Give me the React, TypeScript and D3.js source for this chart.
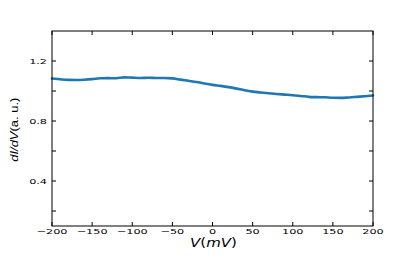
import React from "react";
import * as d3 from "d3";

const voltages = [-200, -190, -180, -170, -160, -150, -140, -130, -120, -110, -100, -90, -80, -70, -60, -50, -40, -30, -20, -10, 0, 10, 20, 30, 40, 50, 60, 70, 80, 90, 100, 110, 120, 130, 140, 150, 160, 170, 180, 190, 200];
const conductance = [1.083, 1.078, 1.074, 1.073, 1.075, 1.079, 1.085, 1.086, 1.085, 1.091, 1.089, 1.087, 1.088, 1.087, 1.087, 1.084, 1.076, 1.068, 1.06, 1.05, 1.041, 1.034, 1.026, 1.016, 1.005, 0.996, 0.99, 0.985, 0.98, 0.976, 0.972, 0.967, 0.961, 0.959, 0.958, 0.955, 0.954, 0.957, 0.961, 0.965, 0.97];
const xTicks = [-200, -150, -100, -50, 0, 50, 100, 150, 200];
const yMajorTicks = [0.4, 0.8, 1.2];
const yMinorTicks = [0.2, 0.6, 1.0];

const W = 415, H = 259;
const L = 52, R = 373, T = 31, B = 226;

export default function App() {
  const x = d3.scaleLinear().domain([-200, 200]).range([L, R]);
  const y = d3.scaleLinear().domain([0.1, 1.4]).range([B, T]);
  const line = d3.line<number>().x((_, i) => x(voltages[i])).y((d) => y(d)).curve(d3.curveMonotoneX);
  const tl = 4;
  const fmt = (v: number) => (v < 0 ? "\u2212" + Math.abs(v) : String(v));
  const tickFont = "DejaVu Sans";
  return (
    <svg width={W} height={H} style={{ position: "absolute", left: 0, top: 0 }}>
      <rect x={0} y={0} width={W} height={H} fill="#fff" />
      <path d={line(conductance) || ""} fill="none" stroke="#1f77b4" strokeWidth={2.6} strokeLinejoin="round" strokeLinecap="round" />
      <rect x={L} y={T} width={R - L} height={B - T} fill="none" stroke="#000" strokeWidth={1} />
      {xTicks.map((v) => (
        <g key={"x" + v}>
          <line x1={x(v)} x2={x(v)} y1={B} y2={B - tl} stroke="#000" />
          <line x1={x(v)} x2={x(v)} y1={T} y2={T + tl} stroke="#000" />
          <text transform={`translate(${x(v)},234) scale(1.5,1)`} textAnchor="middle" fontFamily={tickFont} fontSize={7.5} fill="#000">
            {fmt(v)}
          </text>
        </g>
      ))}
      {[...yMajorTicks, ...yMinorTicks].map((v) => (
        <g key={"y" + v}>
          <line x1={L} x2={L + tl} y1={y(v)} y2={y(v)} stroke="#000" />
          <line x1={R} x2={R - tl} y1={y(v)} y2={y(v)} stroke="#000" />
        </g>
      ))}
      {yMajorTicks.map((v) => (
        <text key={"yl" + v} transform={`translate(47,${y(v) + 2.7}) scale(1.5,1)`} textAnchor="end" fontFamily={tickFont} fontSize={7.5} fill="#000">
          {v.toFixed(1)}
        </text>
      ))}
      <text transform={`translate(${(L + R) / 2 + 1},247) scale(1.2,1)`} textAnchor="middle" fontFamily="DejaVu Sans" fontSize={12.5} fontStyle="italic" fill="#000">
        V<tspan fontStyle="normal">(</tspan>mV<tspan fontStyle="normal">)</tspan>
      </text>
      <text transform={`translate(18,129.7) rotate(-90)`} textAnchor="middle" fontFamily="Liberation Sans" fontSize={11.5} fill="#000" textLength={64} lengthAdjust="spacingAndGlyphs">
        <tspan fontStyle="italic">dI/dV</tspan>(a. u.)
      </text>
    </svg>
  );
}
